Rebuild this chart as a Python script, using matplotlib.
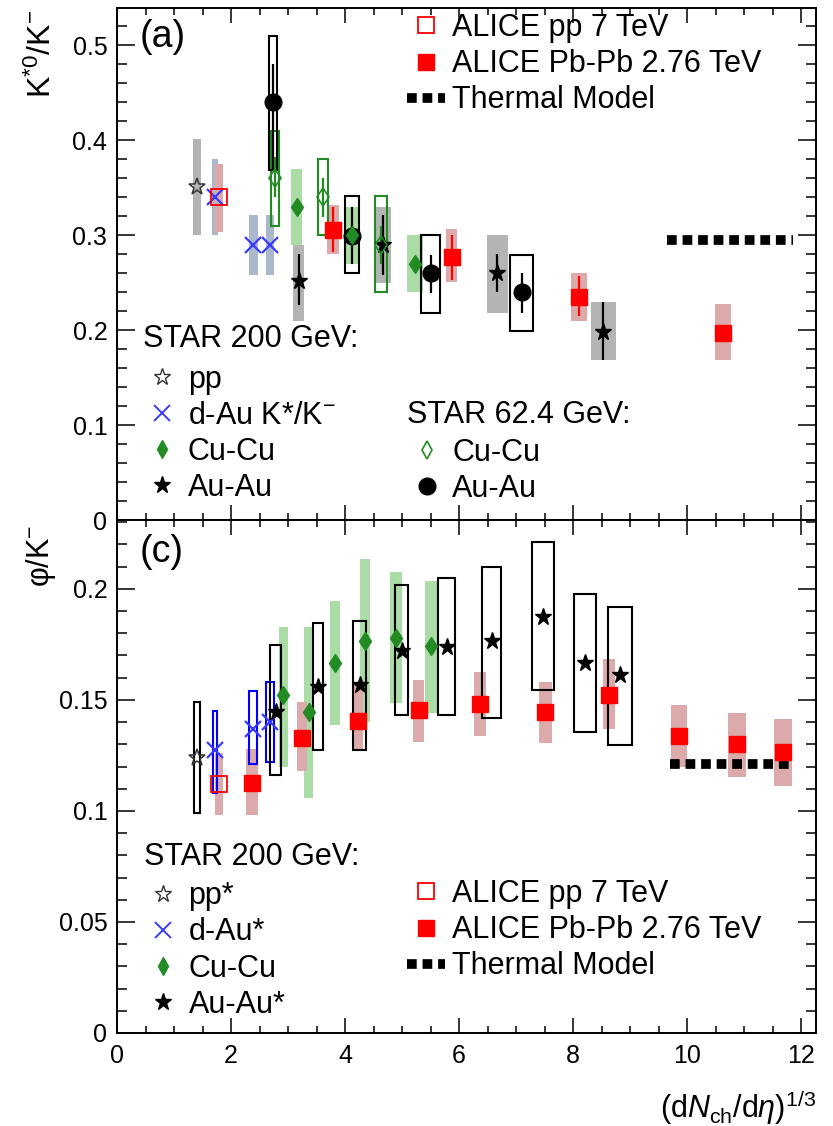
import matplotlib
matplotlib.use('Agg')
import matplotlib.pyplot as plt
from matplotlib.lines import Line2D
from matplotlib.ticker import MultipleLocator, FuncFormatter
import numpy as np

plt.rcParams['font.family'] = ['Liberation Sans', 'DejaVu Sans']
plt.rcParams['mathtext.fontset'] = 'custom'
plt.rcParams['mathtext.rm'] = 'Liberation Sans'
plt.rcParams['mathtext.it'] = 'Liberation Sans:italic'
plt.rcParams['mathtext.bf'] = 'Liberation Sans:bold'

RED = '#ff0000'
PINK = '#dcaaaa'
GREEN = '#238b23'
LGREEN = '#aadda6'
GRAY = '#b4b4b4'
SLATE = '#a9b9c9'
BLUE = '#3a3aff'

# ---------------- K*0/K- ----------------
# STAR 200 GeV pp
ka_pp_x = [1.40]
ka_pp_y = [0.351]
ka_pp_lo = [0.300]
ka_pp_hi = [0.401]
ka_pp_dx = [0.07]

# STAR 200 GeV d-Au (K*/K-)
ka_dau_x = [1.72, 2.39, 2.68]
ka_dau_y = [0.340, 0.289, 0.289]
ka_dau_lo = [0.300, 0.258, 0.258]
ka_dau_hi = [0.380, 0.321, 0.321]
ka_dau_dx = [0.045, 0.075, 0.075]

# STAR 200 GeV Cu-Cu
ka_cu_x = [3.15, 4.12, 5.22]
ka_cu_y = [0.329, 0.300, 0.270]
ka_cu_lo = [0.290, 0.270, 0.240]
ka_cu_hi = [0.370, 0.330, 0.300]
ka_cu_dx = [0.096, 0.10, 0.14]

# STAR 200 GeV Au-Au
ka_au_x = [3.19, 4.67, 6.67, 8.53]
ka_au_y = [0.252, 0.289, 0.260, 0.198]
ka_au_slo = [0.226, 0.258, 0.240, 0.168]
ka_au_shi = [0.280, 0.321, 0.280, 0.229]
ka_au_lo = [0.210, 0.249, 0.218, 0.168]
ka_au_hi = [0.290, 0.330, 0.300, 0.229]
ka_au_dx = [0.096, 0.13, 0.18, 0.225]

# STAR 62.4 GeV Cu-Cu
ka_cu62_x = [2.77, 3.61, 4.63]
ka_cu62_y = [0.360, 0.340, 0.290]
ka_cu62_slo = [0.340, 0.319, 0.270]
ka_cu62_shi = [0.382, 0.360, 0.310]
ka_cu62_lo = [0.310, 0.300, 0.240]
ka_cu62_hi = [0.410, 0.380, 0.341]
ka_cu62_dx = [0.073, 0.088, 0.105]

# STAR 62.4 GeV Au-Au
ka_au62_x = [2.74, 4.12, 5.50, 7.10]
ka_au62_y = [0.440, 0.299, 0.260, 0.240]
ka_au62_slo = [0.370, 0.270, 0.239, 0.218]
ka_au62_shi = [0.480, 0.330, 0.279, 0.260]
ka_au62_lo = [0.368, 0.260, 0.218, 0.199]
ka_au62_hi = [0.510, 0.341, 0.300, 0.279]
ka_au62_dx = [0.067, 0.117, 0.17, 0.20]

# ALICE pp 7 TeV
ka_alpp_x = [1.79]
ka_alpp_y = [0.340]
ka_alpp_lo = [0.303]
ka_alpp_hi = [0.375]
ka_alpp_dx = [0.064]

# ALICE Pb-Pb 2.76 TeV
ka_pb_x = [3.79, 5.87, 8.11, 10.63]
ka_pb_y = [0.305, 0.277, 0.235, 0.197]
ka_pb_slo = [0.282, 0.253, 0.215, 0.193]
ka_pb_shi = [0.330, 0.300, 0.257, 0.201]
ka_pb_lo = [0.280, 0.251, 0.209, 0.168]
ka_pb_hi = [0.332, 0.306, 0.260, 0.227]
ka_pb_dx = [0.10, 0.10, 0.14, 0.146]

ka_therm_x = [9.65, 11.85]
ka_therm_y = [0.295, 0.295]

# ---------------- phi/K- ----------------
# STAR 200 GeV pp*
ph_pp_x = [1.40]
ph_pp_y = [0.124]
ph_pp_lo = [0.099]
ph_pp_hi = [0.149]
ph_pp_dx = [0.053]

# STAR 200 GeV d-Au*
ph_dau_x = [1.72, 2.39, 2.68]
ph_dau_y = [0.1275, 0.137, 0.140]
ph_dau_lo = [0.108, 0.121, 0.122]
ph_dau_hi = [0.145, 0.154, 0.158]
ph_dau_dx = [0.04, 0.07, 0.07]

# STAR 200 GeV Cu-Cu
ph_cu_x = [2.92, 3.36, 3.82, 4.35, 4.89, 5.51]
ph_cu_y = [0.152, 0.1447, 0.1668, 0.1767, 0.178, 0.1743]
ph_cu_lo = [0.1197, 0.106, 0.1387, 0.140, 0.1485, 0.1443]
ph_cu_hi = [0.183, 0.183, 0.1947, 0.2135, 0.2078, 0.2037]
ph_cu_dx = [0.076, 0.082, 0.088, 0.088, 0.11, 0.10]

# STAR 200 GeV Au-Au*
ph_au_x = [2.78, 3.53, 4.26, 4.99, 5.78, 6.57, 7.48, 8.21, 8.82]
ph_au_y = [0.1447, 0.156, 0.1565, 0.172, 0.1737, 0.1763, 0.1875, 0.1665, 0.161]
ph_au_lo = [0.116, 0.1275, 0.1275, 0.1432, 0.1432, 0.142, 0.1545, 0.1356, 0.1297]
ph_au_hi = [0.1745, 0.1846, 0.1856, 0.2018, 0.205, 0.210, 0.2209, 0.1977, 0.1918]
ph_au_dx = [0.10, 0.088, 0.114, 0.12, 0.146, 0.17, 0.193, 0.20, 0.213]

# ALICE pp 7 TeV
ph_alpp_x = [1.79]
ph_alpp_y = [0.112]
ph_alpp_lo = [0.098]
ph_alpp_hi = [0.126]
ph_alpp_dx = [0.064]

# ALICE Pb-Pb 2.76 TeV
ph_pb_x = [2.36, 3.25, 4.23, 5.29, 6.37, 7.51, 8.63, 9.86, 10.87, 11.68]
ph_pb_y = [0.1125, 0.133, 0.1405, 0.1455, 0.148, 0.1445, 0.1523, 0.1338, 0.130, 0.1267]
ph_pb_lo = [0.098, 0.118, 0.1275, 0.131, 0.1338, 0.1305, 0.137, 0.120, 0.1155, 0.1114]
ph_pb_hi = [0.128, 0.149, 0.1575, 0.159, 0.1625, 0.158, 0.1683, 0.1476, 0.1443, 0.1416]
ph_pb_dx = [0.105, 0.088, 0.09, 0.097, 0.10, 0.117, 0.108, 0.146, 0.158, 0.16]

ph_therm_x = [9.70, 11.85]
ph_therm_y = [0.121, 0.121]


def band(ax, x, lo, hi, dx, color, z=1):
    ax.bar(x, np.subtract(hi, lo), bottom=lo, width=2 * np.asarray(dx),
           color=color, linewidth=0, zorder=z)


def box(ax, x, lo, hi, dx, color, z=2):
    ax.bar(x, np.subtract(hi, lo), bottom=lo, width=2 * np.asarray(dx),
           fill=False, edgecolor=color, linewidth=1.5, zorder=z)


def stat(ax, x, y, lo, hi, color, z=3):
    y = np.asarray(y)
    ax.errorbar(x, y, yerr=[y - np.asarray(lo), np.asarray(hi) - y], fmt='none',
                ecolor=color, elinewidth=1.6, capsize=0, zorder=z)


def style_axes(ax, ymax, major, minor):
    ax.set_xlim(0, 12.26)
    ax.set_ylim(0, ymax)
    ax.xaxis.set_major_locator(MultipleLocator(2))
    ax.xaxis.set_minor_locator(MultipleLocator(0.5))
    ax.yaxis.set_major_locator(MultipleLocator(major))
    ax.yaxis.set_minor_locator(MultipleLocator(minor))
    ax.yaxis.set_major_formatter(FuncFormatter(lambda v, p: '%g' % round(v, 3)))
    ax.tick_params(axis='both', which='both', direction='in', top=True, right=True,
                   labelsize=18, width=1.1)
    ax.tick_params(axis='y', which='major', length=13, pad=7)
    ax.tick_params(axis='y', which='minor', length=7)
    ax.tick_params(axis='x', which='major', length=11, pad=8)
    ax.tick_params(axis='x', which='minor', length=5)
    for s in ax.spines.values():
        s.set_linewidth(1.4)


thermal_style = dict(color='k', linewidth=7, dashes=(1.0, 0.6), solid_capstyle='butt',
                     dash_capstyle='butt')

fig = plt.figure(figsize=(8.33, 11.26), dpi=100)
ax1 = fig.add_axes([117 / 833, 1 - 520 / 1126, 699 / 833, 512 / 1126])
ax2 = fig.add_axes([117 / 833, 1 - 1033 / 1126, 699 / 833, 513 / 1126])

# ---- top panel: K*0/K- ----
band(ax1, ka_pp_x, ka_pp_lo, ka_pp_hi, ka_pp_dx, GRAY)
band(ax1, ka_dau_x, ka_dau_lo, ka_dau_hi, ka_dau_dx, SLATE)
band(ax1, ka_alpp_x, ka_alpp_lo, ka_alpp_hi, ka_alpp_dx, PINK)
band(ax1, ka_cu_x, ka_cu_lo, ka_cu_hi, ka_cu_dx, LGREEN)
band(ax1, ka_au_x, ka_au_lo, ka_au_hi, ka_au_dx, GRAY)
band(ax1, ka_pb_x, ka_pb_lo, ka_pb_hi, ka_pb_dx, PINK)
box(ax1, ka_cu62_x, ka_cu62_lo, ka_cu62_hi, ka_cu62_dx, GREEN)
box(ax1, ka_au62_x, ka_au62_lo, ka_au62_hi, ka_au62_dx, 'k')
stat(ax1, ka_au_x, ka_au_y, ka_au_slo, ka_au_shi, 'k')
stat(ax1, ka_au62_x, ka_au62_y, ka_au62_slo, ka_au62_shi, 'k')
stat(ax1, ka_cu62_x, ka_cu62_y, ka_cu62_slo, ka_cu62_shi, GREEN)
stat(ax1, ka_pb_x, ka_pb_y, ka_pb_slo, ka_pb_shi, RED)

ax1.plot(ka_therm_x, ka_therm_y, **thermal_style, zorder=3)
ax1.plot(ka_pp_x, ka_pp_y, ls='none', marker='*', ms=12.5, mfc='none', mec='#333333', mew=1.1, zorder=4)
ax1.plot(ka_dau_x, ka_dau_y, ls='none', marker='x', ms=11, mec=BLUE, mew=1.6, zorder=4)
ax1.plot(ka_alpp_x, ka_alpp_y, ls='none', marker='s', ms=11.5, mfc='none', mec=RED, mew=1.3, zorder=5)
ax1.plot(ka_au62_x, ka_au62_y, ls='none', marker='o', ms=12, color='k', zorder=4)
ax1.plot(ka_au_x, ka_au_y, ls='none', marker='*', ms=12.5, color='k', zorder=4)
ax1.plot(ka_cu_x, ka_cu_y, ls='none', marker='d', ms=9.5, color=GREEN, zorder=5)
ax1.plot(ka_cu62_x, ka_cu62_y, ls='none', marker='d', ms=9.5, mfc='none', mec=GREEN, mew=1.2, zorder=5)
ax1.plot(ka_pb_x, ka_pb_y, ls='none', marker='s', ms=12, color=RED, zorder=5)

# ---- bottom panel: phi/K- ----
band(ax2, ph_cu_x, ph_cu_lo, ph_cu_hi, ph_cu_dx, LGREEN)
band(ax2, ph_alpp_x, ph_alpp_lo, ph_alpp_hi, ph_alpp_dx, PINK)
band(ax2, ph_pb_x, ph_pb_lo, ph_pb_hi, ph_pb_dx, PINK)
box(ax2, ph_pp_x, ph_pp_lo, ph_pp_hi, ph_pp_dx, 'k')
box(ax2, ph_dau_x, ph_dau_lo, ph_dau_hi, ph_dau_dx, '#0000ff')
box(ax2, ph_au_x, ph_au_lo, ph_au_hi, ph_au_dx, 'k')

ax2.plot(ph_therm_x, ph_therm_y, **thermal_style, zorder=3)
ax2.plot(ph_pp_x, ph_pp_y, ls='none', marker='*', ms=12.5, mfc='none', mec='#333333', mew=1.1, zorder=4)
ax2.plot(ph_dau_x, ph_dau_y, ls='none', marker='x', ms=11, mec=BLUE, mew=1.6, zorder=4)
ax2.plot(ph_alpp_x, ph_alpp_y, ls='none', marker='s', ms=11.5, mfc='none', mec=RED, mew=1.3, zorder=5)
ax2.plot(ph_cu_x, ph_cu_y, ls='none', marker='d', ms=9.5, color=GREEN, zorder=4)
ax2.plot(ph_au_x, ph_au_y, ls='none', marker='*', ms=12.5, color='k', zorder=5)
ax2.plot(ph_pb_x, ph_pb_y, ls='none', marker='s', ms=12, color=RED, zorder=5)

style_axes(ax1, 0.539, 0.1, 0.02)
style_axes(ax2, 0.231, 0.05, 0.01)
ax1.tick_params(axis='x', labelbottom=False)

ax1.set_ylabel(r'K$^{*0}$/K$^{-}$', fontsize=23, loc='top')
ax1.yaxis.set_label_coords(-0.084, 0.997)
ax2.set_ylabel(r'φ/K$^{-}$', fontsize=22, loc='top')
ax2.yaxis.set_label_coords(-0.084, 0.99)
ax2.set_xlabel(r'(d$\mathit{N}_{\rm ch}$/d$\mathit{\eta}$)$^{1/3}$', fontsize=22, loc='right',
               labelpad=14)

ax1.text(0.033, 0.943, '(a)', transform=ax1.transAxes, fontsize=27, ha='left', va='center')
ax2.text(0.033, 0.938, '(c)', transform=ax2.transAxes, fontsize=27, ha='left', va='center')

# ---- legends ----
h_alpp = Line2D([], [], ls='none', marker='s', ms=11.5, mfc='none', mec=RED, mew=1.3)
h_pb = Line2D([], [], ls='none', marker='s', ms=12, color=RED)
h_th = Line2D([], [], **thermal_style)
h_pp = Line2D([], [], ls='none', marker='*', ms=12.5, mfc='white', mec='#333333', mew=1.0)
h_dau = Line2D([], [], ls='none', marker='x', ms=11, mec=BLUE, mew=1.4)
h_cu = Line2D([], [], ls='none', marker='d', ms=9, color=GREEN)
h_au = Line2D([], [], ls='none', marker='*', ms=12.5, color='k')
h_cu62 = Line2D([], [], ls='none', marker='d', ms=9, mfc='white', mec=GREEN, mew=1.2)
h_au62 = Line2D([], [], ls='none', marker='o', ms=12, color='k')

leg_kw = dict(frameon=False, fontsize=22, borderpad=0, borderaxespad=0,
              handlelength=1.25, handletextpad=0.22, labelspacing=0.2, loc='upper left')
head_kw = dict(fontsize=22, ha='left', va='baseline')

l1 = ax1.legend([h_alpp, h_pb, h_th], ['ALICE pp 7 TeV', 'ALICE Pb-Pb 2.76 TeV', 'Thermal Model'],
                bbox_to_anchor=(0.415, 0.990), **leg_kw)
ax1.add_artist(l1)
ax1.text(0.037, 0.3385, 'STAR 200 GeV:', transform=ax1.transAxes, **head_kw)
l2 = ax1.legend([h_pp, h_dau, h_cu, h_au], ['pp', r'd-Au K*/K$^{-}$', 'Cu-Cu', 'Au-Au'],
                bbox_to_anchor=(0.037, 0.3033), **leg_kw)
ax1.add_artist(l2)
ax1.text(0.4145, 0.1889, 'STAR 62.4 GeV:', transform=ax1.transAxes, **head_kw)
ax1.legend([h_cu62, h_au62], ['Cu-Cu', 'Au-Au'],
           bbox_to_anchor=(0.4156, 0.160), **leg_kw)

ax2.text(0.038, 0.3275, 'STAR 200 GeV:', transform=ax2.transAxes, **head_kw)
l4 = ax2.legend([h_pp, h_dau, h_cu, h_au], ['pp*', 'd-Au*', 'Cu-Cu', 'Au-Au*'],
                bbox_to_anchor=(0.038, 0.2957), **leg_kw)
ax2.add_artist(l4)
ax2.legend([h_alpp, h_pb, h_th], ['ALICE pp 7 TeV', 'ALICE Pb-Pb 2.76 TeV', 'Thermal Model'],
           bbox_to_anchor=(0.415, 0.300), **leg_kw)

fig.savefig('out.png', dpi=100)
